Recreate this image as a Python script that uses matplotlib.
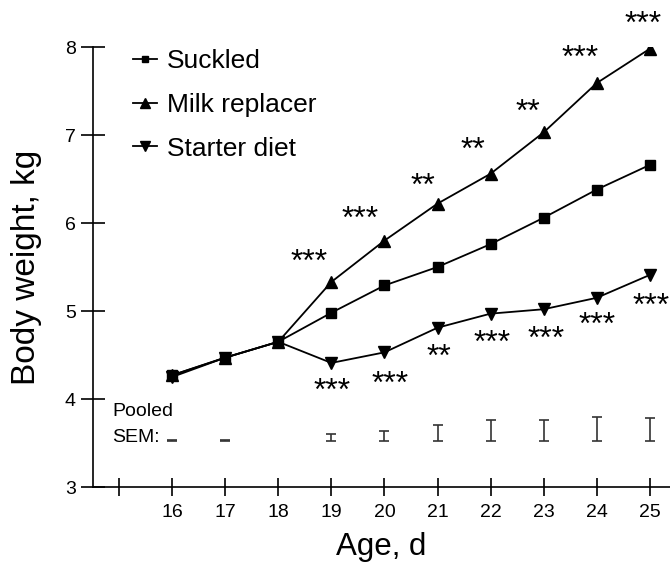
import numpy as np
import matplotlib
matplotlib.use("Agg")
import matplotlib.pyplot as plt
from matplotlib.lines import Line2D

plt.rcParams['font.family'] = ['Liberation Sans', 'DejaVu Sans']

# --- data ---
age = [16, 17, 18, 19, 20, 21, 22, 23, 24, 25]
suckled = [4.27, 4.47, 4.65, 4.98, 5.29, 5.50, 5.76, 6.06, 6.38, 6.66]
milk_replacer = [4.27, 4.47, 4.65, 5.33, 5.80, 6.22, 6.56, 7.03, 7.59, 7.98]
starter_diet = [4.25, 4.47, 4.65, 4.41, 4.53, 4.81, 4.97, 5.02, 5.15, 5.41]

# pooled SEM (half bar length), none drawn at day 18
sem_age = [16, 17, 19, 20, 21, 22, 23, 24, 25]
sem = [0.006, 0.006, 0.042, 0.06, 0.095, 0.12, 0.123, 0.136, 0.13]
SEM_BASE = 3.52

# significance marks (milk replacer above, starter diet below)
sig_up_x = [18.59, 19.55, 20.72, 21.66, 22.70, 23.68, 24.87]
sig_up_y = [5.59, 6.07, 6.45, 6.86, 7.29, 7.90, 8.29]
sig_up_lab = ["***", "***", "**", "**", "**", "***", "***"]
sig_lo_x = [19.02, 20.10, 21.02, 22.02, 23.04, 24.0, 25.02]
sig_lo_y = [4.12, 4.20, 4.51, 4.67, 4.71, 4.87, 5.09]
sig_lo_lab = ["***", "***", "**", "***", "***", "***", "***"]

fig = plt.figure(figsize=(6.7, 5.73), dpi=100)
ax = fig.add_axes([93 / 670, 86 / 573, 577 / 670, 440 / 573])

lw = 1.3
ax.plot(age, suckled, '-', color='black', lw=lw, marker='s', ms=6.5)
ax.plot(age, milk_replacer, '-', color='black', lw=lw, marker='^', ms=9)
ax.plot(age, starter_diet, '-', color='black', lw=lw, marker='v', ms=9)

# pooled SEM bars
sem_arr = np.array(sem)
ax.errorbar(sem_age, SEM_BASE + sem_arr, yerr=sem_arr, fmt='none',
            ecolor='#333333', elinewidth=1.2, capsize=3.5, capthick=1.2)
ax.text(14.87, 3.86, "Pooled", fontsize=14, va='center', ha='left')
ax.text(14.87, 3.56, "SEM:", fontsize=14, va='center', ha='left')

for x, y, s in zip(sig_up_x + sig_lo_x, sig_up_y + sig_lo_y, sig_up_lab + sig_lo_lab):
    ax.text(x, y, s, fontsize=23, ha='center', va='center_baseline', clip_on=False)

ax.set_xlim(14.51, 25.38)
ax.set_ylim(3, 8)
ax.set_xticks(range(15, 26))
ax.set_xticklabels([''] + [str(a) for a in age])
ax.set_yticks(range(3, 9))

for side in ('top', 'right'):
    ax.spines[side].set_visible(False)
ax.spines['left'].set_linewidth(1.2)
ax.spines['bottom'].set_linewidth(1.2)
ax.tick_params(axis='y', direction='inout', length=17, width=1.2, labelsize=14, pad=4)
ax.tick_params(axis='x', direction='inout', length=13, width=1.2, labelsize=14, pad=6)

ax.set_xlabel("Age, d", fontsize=22.5, labelpad=8)
ax.set_ylabel("Body weight, kg", fontsize=24, labelpad=16)

handles = [
    Line2D([], [], color='black', lw=lw, marker='s', ms=4.5),
    Line2D([], [], color='black', lw=lw, marker='^', ms=7),
    Line2D([], [], color='black', lw=lw, marker='v', ms=7),
]
ax.legend(handles, ["Suckled", "Milk replacer", "Starter diet"],
          loc='upper left', bbox_to_anchor=(133 / 670, 1 - 49 / 573),
          bbox_transform=fig.transFigure, frameon=False, fontsize=19,
          handlelength=0.9, handletextpad=0.4, labelspacing=0.75,
          borderaxespad=0, borderpad=0)

fig.savefig("out.png", dpi=100)
